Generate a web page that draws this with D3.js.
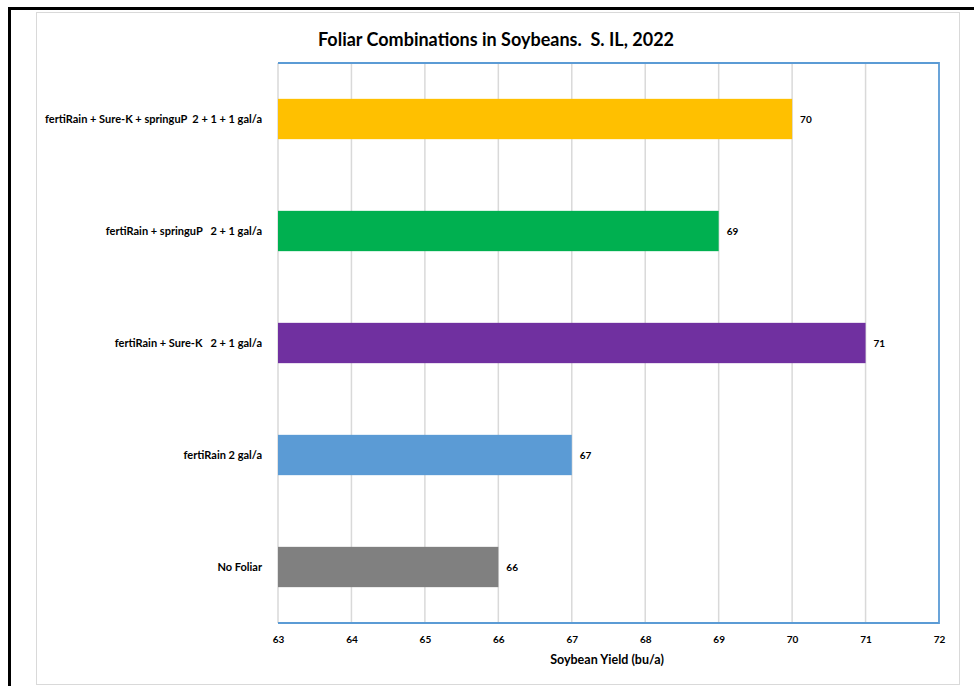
<!DOCTYPE html>
<html>
<head>
<meta charset="utf-8">
<script src="https://cdn.jsdelivr.net/npm/d3@7"></script>
<style>
  body { margin: 0; background: #fff; }
  svg text { font-family: Lato, "Open Sans", sans-serif; font-weight: bold; fill: #000; white-space: pre; }
</style>
</head>
<body>
<div id="chart"></div>
<script>
const categories = [
    "fertiRain + Sure-K + springuP  2 + 1 + 1 gal/a",
    "fertiRain + springuP   2 + 1 gal/a",
    "fertiRain + Sure-K   2 + 1 gal/a",
    "fertiRain 2 gal/a",
    "No Foliar"
];
const yields = [70, 69, 71, 67, 66];
const barColors = ["#FFC000", "#00B050", "#7030A0", "#5B9BD5", "#808080"];
const xTicks = [63, 64, 65, 66, 67, 68, 69, 70, 71, 72];

const W = 974, H = 686;
const svg = d3.select("#chart").append("svg")
    .attr("width", W)
    .attr("height", H);

// outer black frame (top + left)
svg.append("path")
    .attr("d", `M9.5,${H} L9.5,8.5 L${W},8.5`)
    .attr("fill", "none")
    .attr("stroke", "#000")
    .attr("stroke-width", 3);

// chart area border
svg.append("rect")
    .attr("x", 36.5).attr("y", 12.5)
    .attr("width", 923).attr("height", 672)
    .attr("fill", "#fff")
    .attr("stroke", "#d9d9d9")
    .attr("stroke-width", 1);

const margin = { top: 63, left: 278, right: 939, bottom: 623 };

const x = d3.scaleLinear()
    .domain([63, 72])
    .range([margin.left, margin.right]);

const y = d3.scaleBand()
    .domain(categories)
    .range([margin.top, margin.bottom])
    .paddingInner(0.64)
    .paddingOuter(0.32);

// gridlines
svg.append("g")
    .selectAll("line")
    .data(xTicks.slice(1, -1))
    .enter()
    .append("line")
    .attr("x1", d => x(d)).attr("x2", d => x(d))
    .attr("y1", margin.top).attr("y2", margin.bottom)
    .attr("stroke", "#d9d9d9")
    .attr("stroke-width", 1.5);

// category axis line (left, gray)
svg.append("line")
    .attr("x1", margin.left).attr("x2", margin.left)
    .attr("y1", margin.top).attr("y2", margin.bottom)
    .attr("stroke", "#d9d9d9")
    .attr("stroke-width", 1.5);

// bars
svg.append("g")
    .selectAll("rect")
    .data(yields)
    .enter()
    .append("rect")
    .attr("x", x(63))
    .attr("y", (d, i) => y(categories[i]))
    .attr("width", d => x(d) - x(63))
    .attr("height", y.bandwidth())
    .attr("fill", (d, i) => barColors[i]);

// value labels
svg.append("g")
    .selectAll("text")
    .data(yields)
    .enter()
    .append("text")
    .attr("x", d => x(d) + 8)
    .attr("y", (d, i) => y(categories[i]) + y.bandwidth() / 2)
    .attr("dy", "0.35em")
    .style("font-size", "10px")
    .text(d => d);

// plot border: blue top/right/bottom
svg.append("path")
    .attr("d", `M${margin.left},${margin.top} L${margin.right},${margin.top} L${margin.right},${margin.bottom} L${margin.left},${margin.bottom}`)
    .attr("fill", "none")
    .attr("stroke", "#5B9BD5")
    .attr("stroke-width", 1.8);

// y axis labels
const yAxis = svg.append("g")
    .attr("transform", `translate(${margin.left - 16},0)`)
    .call(d3.axisLeft(y).tickSize(0).tickPadding(0));
yAxis.select(".domain").remove();
yAxis.selectAll("text")
    .style("font-size", "11px")
    .style("font-family", "Lato, 'Open Sans', sans-serif")
    .style("font-weight", "bold")
    .style("white-space", "pre")
    .attr("fill", "#000");

// x axis labels
const xAxis = svg.append("g")
    .attr("transform", `translate(0,${margin.bottom})`)
    .call(d3.axisBottom(x).tickValues(xTicks).tickSize(0).tickPadding(13));
xAxis.select(".domain").remove();
xAxis.selectAll("text")
    .style("font-size", "10px")
    .style("font-family", "Lato, 'Open Sans', sans-serif")
    .style("font-weight", "bold")
    .attr("fill", "#000");

// axis title
svg.append("text")
    .attr("x", 607)
    .attr("y", 664)
    .attr("text-anchor", "middle")
    .style("font-size", "12.5px")
    .text("Soybean Yield (bu/a)");

// chart title
svg.append("text")
    .attr("x", 496)
    .attr("y", 46)
    .attr("text-anchor", "middle")
    .style("font-size", "18px")
    .text("Foliar Combinations in Soybeans.  S. IL, 2022");
</script>
</body>
</html>
